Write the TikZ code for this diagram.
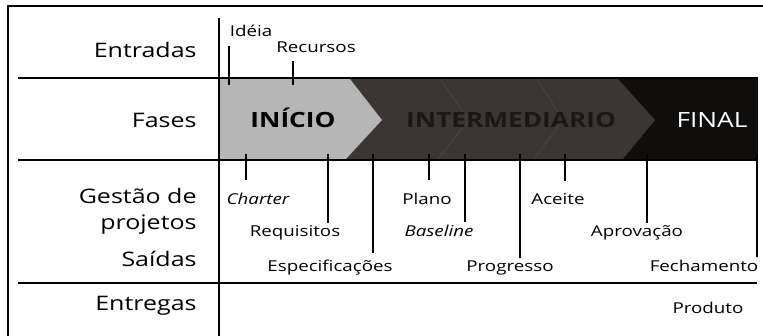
\documentclass[tikz,border=0pt]{standalone}
\usepackage{fontspec}
\setmainfont[FakeStretch=1.25]{Open Sans}
\usepackage{tikz}
\usetikzlibrary{positioning}

\definecolor{phaselight}{HTML}{B6B6B6}
\definecolor{phasemid}{HTML}{3B3633}
\definecolor{phasedark}{HTML}{100D0D}
\definecolor{midtext}{HTML}{1A1716}

\begin{document}
\begin{tikzpicture}[
		x=0.5pt, y=-0.5pt,
		every node/.style={font=\fontsize{10}{13}\selectfont, inner sep=1pt},
		rowlabel/.style={anchor=base east, align=right},
		outlabel/.style={anchor=base, font=\fontsize{7.5}{9}\selectfont},
		phaselabel/.style={anchor=base, font=\fontsize{10.5}{13}\selectfont\bfseries},
		rule/.style={line width=0.8pt},
		tick/.style={line width=0.8pt},
		fold/.style={draw=black!70, line width=0.3pt}
		]
		\useasboundingbox (0,0) rectangle (763,336);
		
		% Phase band
		\fill[phasedark] (219,79) rectangle (758,160);
		\fill[phasemid] (350,79) -- (618,79) -- (655,120) -- (622,160)
		-- (345,160) -- (382,120) -- cycle;
		\fill[phaselight] (219,79) -- (350,79) -- (382,120) -- (345,160)
		-- (219,160) -- cycle;
		\draw[fold] (440,79) -- (469,120) -- (437,160);
		\draw[fold] (537,79) -- (563,120) -- (533,160);
		
		% Frame and rules
		\draw[rule] (7,6) -- (763,6);
		\draw[rule] (8,6) -- (8,336);
		\draw[rule] (219,18) -- (219,336);
		\draw[rule] (18,78) -- (758,78);
		\draw[rule] (18,160) -- (758,160);
		\draw[rule] (18,283) -- (757,283);
		
		% Row labels
		\node[rowlabel] (entradas) at (199,58) {Entradas};
		\node[rowlabel] (fases) at (199,127) {Fases};
		\node[rowlabel] (gestao) at (199,229) {Gestão de\\projetos};
		\node[rowlabel] (saidas) at (199,266) {Saídas};
		\node[rowlabel] (entregas) at (199,310) {Entregas};
		
		% Phases
		\node[phaselabel] (inicio) at (293,127) {INÍCIO};
		\node[phaselabel, text=midtext] (intermed) at (511,127) {INTERMEDIARIO};
		\node[phaselabel, font=\fontsize{10.5}{13}\selectfont, text=white] (final) at (712,127) {FINAL};
		
		% Inputs
		\node[outlabel] (ideia) at (251,37) {Idéia};
		\node[outlabel] (recursos) at (316,53) {Recursos};
		
		% Outputs
		\node[outlabel] (charter) at (258,204) {\itshape Charter};
		\node[outlabel] (requisitos) at (295,236) {Requisitos};
		\node[outlabel] (especif) at (330,271) {Especificações};
		\node[outlabel] (plano) at (427,204) {Plano};
		\node[outlabel] (baseline) at (439,236) {\itshape Baseline};
		\node[outlabel] (progresso) at (510,271) {Progresso};
		\node[outlabel] (aceite) at (558,204) {Aceite};
		\node[outlabel] (aprovacao) at (637,236) {Aprovação};
		\node[outlabel] (fechamento) at (704,271) {Fechamento};
		\node[outlabel] (produto) at (708,313) {Produto};
		
		% Tick roots
		\coordinate (tIdeia) at (229,85);
		\coordinate (tRecursos) at (293,85);
		\coordinate (tCharter) at (246,154);
		\coordinate (tRequisitos) at (328,154);
		\coordinate (tEspecif) at (373,154);
		\coordinate (tPlano) at (429,154);
		\coordinate (tBaseline) at (465,154);
		\coordinate (tProgresso) at (520,154);
		\coordinate (tAceite) at (565,154);
		\coordinate (tAprovacao) at (647,154);
		\coordinate (tFechamento) at (757,154);
		
		% Ticks
		\draw[tick, shorten >=3pt] (tIdeia) -- (tIdeia |- ideia.south);
		\draw[tick, shorten >=2.5pt] (tRecursos) -- (tRecursos |- recursos.south);
		\draw[tick, shorten >=5pt] (tCharter) -- (tCharter |- charter.north);
		\draw[tick] (tRequisitos) -- (tRequisitos |- requisitos.north);
		\draw[tick, shorten >=2pt] (tEspecif) -- (tEspecif |- especif.north);
		\draw[tick, shorten >=5pt] (tPlano) -- (tPlano |- plano.north);
		\draw[tick] (tBaseline) -- (tBaseline |- baseline.north);
		\draw[tick] (tProgresso) -- (tProgresso |- progresso.north);
		\draw[tick, shorten >=5pt] (tAceite) -- (tAceite |- aceite.north);
		\draw[tick] (tAprovacao) -- (tAprovacao |- aprovacao.north);
		\draw[tick] (tFechamento) -- (tFechamento |- fechamento.north);
		
\end{tikzpicture}
\end{document}
